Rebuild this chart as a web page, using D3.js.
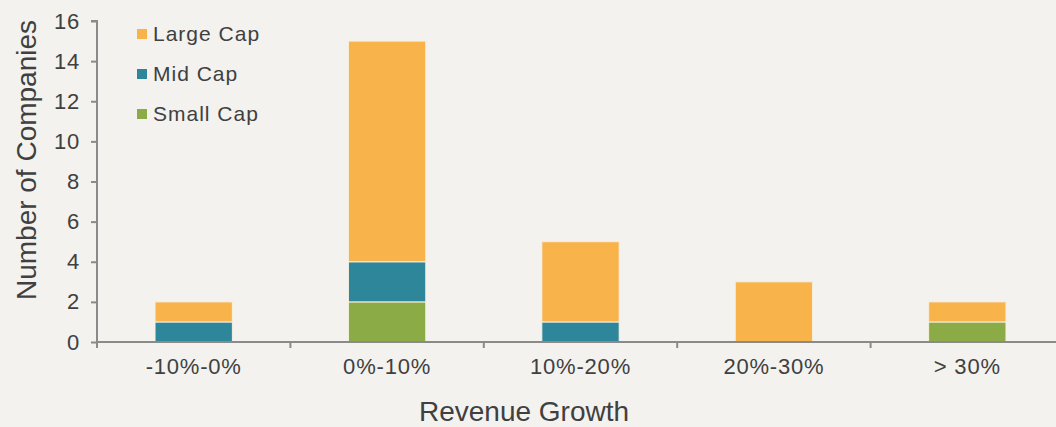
<!DOCTYPE html>
<html lang="en">
<head>
  <meta charset="UTF-8" />
  <title>Revenue Growth by Cap</title>
  <script src="https://d3js.org/d3.v7.min.js"></script>
  <style>
    body { margin: 0; background: #f3f2ee; }
    svg { display: block; font-family: "Liberation Sans", Arial, sans-serif; }
    .axis path, .axis line { stroke: #8a8a8a; stroke-width: 2px; }
    .axis text { fill: #404040; font-size: 22px; letter-spacing: 0.8px; }
  </style>
</head>
<body>
  <svg width="1056" height="427"></svg>
  <script>
    // data
    const categories = ["-10%-0%", "0%-10%", "10%-20%", "20%-30%", "> 30%"];
    const smallCap = [0, 2, 0, 0, 1];
    const midCap = [1, 2, 1, 0, 0];
    const largeCap = [1, 11, 4, 3, 1];
    const seriesNames = ["Small Cap", "Mid Cap", "Large Cap"];
    const colors = ["#8bab47", "#2e869b", "#f9b34b"];
    const yTicks = [0, 2, 4, 6, 8, 10, 12, 14, 16];

    const svg = d3.select("svg");
    const margin = {left: 97, right: -8, top: 21, bottom: 85};
    const width = 1056 - margin.left - margin.right;
    const height = 427 - margin.top - margin.bottom;

    const g = svg.append("g").attr("transform", `translate(${margin.left},${margin.top})`);

    const x = d3.scaleBand().domain(categories).range([0, width]).paddingInner(0.6).paddingOuter(0.3);
    const y = d3.scaleLinear().domain([0, 16]).range([height, 0]);

    const rows = categories.map((c, i) => ({cat: c, "Small Cap": smallCap[i], "Mid Cap": midCap[i], "Large Cap": largeCap[i]}));
    const stacked = d3.stack().keys(seriesNames)(rows);

    g.selectAll("g.layer")
      .data(stacked)
      .enter()
      .append("g")
      .attr("class", "layer")
      .attr("fill", (d, i) => colors[i])
      .selectAll("rect")
      .data(d => d.filter(p => p[1] > p[0]))
      .enter()
      .append("rect")
      .attr("x", d => x(d.data.cat))
      .attr("width", x.bandwidth())
      .attr("y", d => y(d[1]))
      .attr("height", d => y(d[0]) - y(d[1]))
      .attr("stroke", "#f6f0e0")
      .attr("stroke-width", 1);

    // y axis
    const yAxis = g.append("g").attr("class", "axis")
      .call(d3.axisLeft(y).tickValues(yTicks).tickSize(6).tickPadding(11));
    yAxis.select(".domain").attr("d", `M0,${height}V0H-6`);

    // x axis with ticks at category boundaries
    const xAxis = g.append("g").attr("class", "axis").attr("transform", `translate(0,${height})`);
    xAxis.append("line").attr("x1", 0).attr("x2", width).attr("y1", 0).attr("y2", 0);
    const step = x.step();
    const bounds = d3.range(categories.length + 1).map(i => i * step);
    xAxis.selectAll("line.tk").data(bounds).enter().append("line")
      .attr("class", "tk").attr("x1", d => d).attr("x2", d => d).attr("y1", 0).attr("y2", 6);
    xAxis.selectAll("text").data(categories).enter().append("text")
      .attr("x", d => x(d) + x.bandwidth() / 2)
      .attr("y", 32)
      .attr("text-anchor", "middle")
      .text(d => d);

    // axis titles
    svg.append("text")
      .attr("transform", `translate(36,160) rotate(-90)`)
      .attr("text-anchor", "middle")
      .attr("fill", "#404040")
      .style("font-size", "28px")
      .text("Number of Companies");
    svg.append("text")
      .attr("x", 524).attr("y", 421)
      .attr("text-anchor", "middle")
      .attr("fill", "#404040")
      .style("font-size", "28px")
      .text("Revenue Growth");

    // legend
    const legendOrder = [2, 1, 0];
    const legend = svg.append("g").attr("transform", "translate(137,34)");
    legendOrder.forEach((si, k) => {
      const row = legend.append("g").attr("transform", `translate(0,${k * 40})`);
      row.append("rect").attr("x", 0).attr("y", -5).attr("width", 10).attr("height", 10).attr("fill", colors[si]);
      row.append("text").attr("x", 16).attr("y", 7).attr("fill", "#404040")
        .style("font-size", "21px").style("letter-spacing", "1px").text(seriesNames[si]);
    });
  </script>
</body>
</html>
